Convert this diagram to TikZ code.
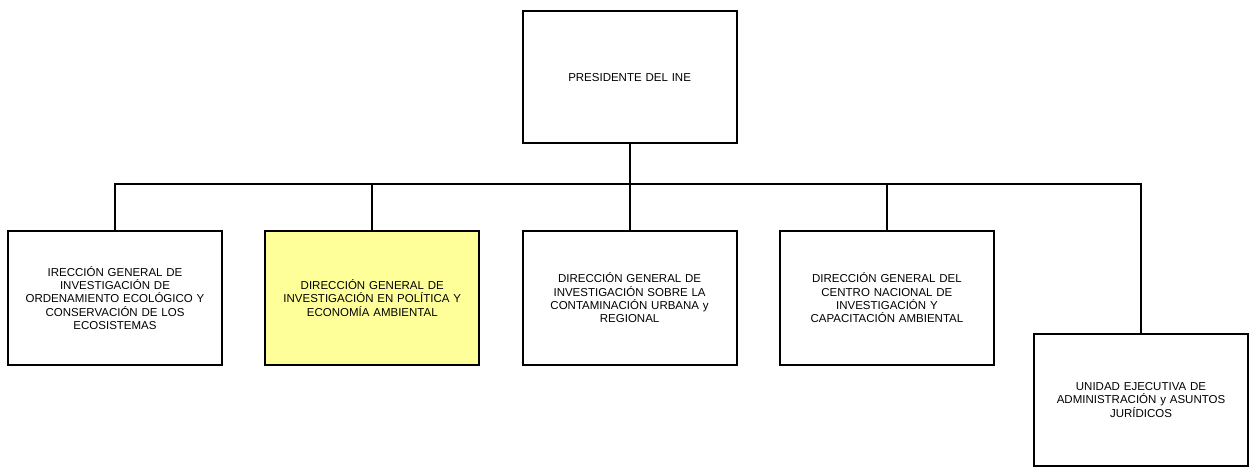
\documentclass[tikz,border=0pt]{standalone}
\usepackage{fontspec}
\setmainfont{Liberation Sans}
\usepackage{tikz}
\usetikzlibrary{positioning}
\definecolor{orgyellow}{RGB}{255,255,153}
\tikzstyle{line} = [line width=1.8pt, color=black]
\tikzstyle{unit} = [rectangle, draw=black, line width=1.8pt, minimum width=214pt, minimum height=133pt, text width=205pt, align=center, font=\fontsize{11.5}{13.3}\selectfont, inner sep=0pt]

\begin{document}
\begin{tikzpicture}[x=1pt, y=-1pt]
\useasboundingbox (0,0) rectangle (1250,468);
% Direcciones generales
\node (ordenamiento) [unit, minimum height=134pt] at (115,298) {IRECCIÓN GENERAL DE\\ INVESTIGACIÓN DE\\ ORDENAMIENTO ECOLÓGICO Y\\ CONSERVACIÓN DE LOS\\ ECOSISTEMAS};
\node (politica) [unit, minimum height=134pt, fill=orgyellow, right=41.5pt of ordenamiento] {DIRECCIÓN GENERAL DE\\ INVESTIGACIÓN EN POLÍTICA Y\\ ECONOMÍA AMBIENTAL};
\node (contaminacion) [unit, minimum height=134pt, right=41.5pt of politica] {DIRECCIÓN GENERAL DE\\ INVESTIGACIÓN SOBRE LA\\ CONTAMINACIÓN URBANA y\\ REGIONAL};
\node (centro) [unit, minimum height=134pt, right=41.5pt of contaminacion] {DIRECCIÓN GENERAL DEL\\ CENTRO NACIONAL DE\\ INVESTIGACIÓN Y\\ CAPACITACIÓN AMBIENTAL};

% Presidente
\node (ine) [unit, minimum height=132pt, above=86pt of contaminacion] {PRESIDENTE DEL INE};

% Unidad ejecutiva
\node (unidad) [unit, minimum height=132pt] at (1141,400) {UNIDAD EJECUTIVA DE\\ ADMINISTRACIÓN y ASUNTOS\\ JURÍDICOS};

% Conectores
\coordinate (bus) at (contaminacion.north |- 0,184);
\draw[line] (ine.south) -- (contaminacion.north);
\draw[line] (ordenamiento.north) |- (bus) -| (unidad.north);
\draw[line] (politica.north) -- (politica.north |- bus);
\draw[line] (centro.north) -- (centro.north |- bus);
\end{tikzpicture}
\end{document}
